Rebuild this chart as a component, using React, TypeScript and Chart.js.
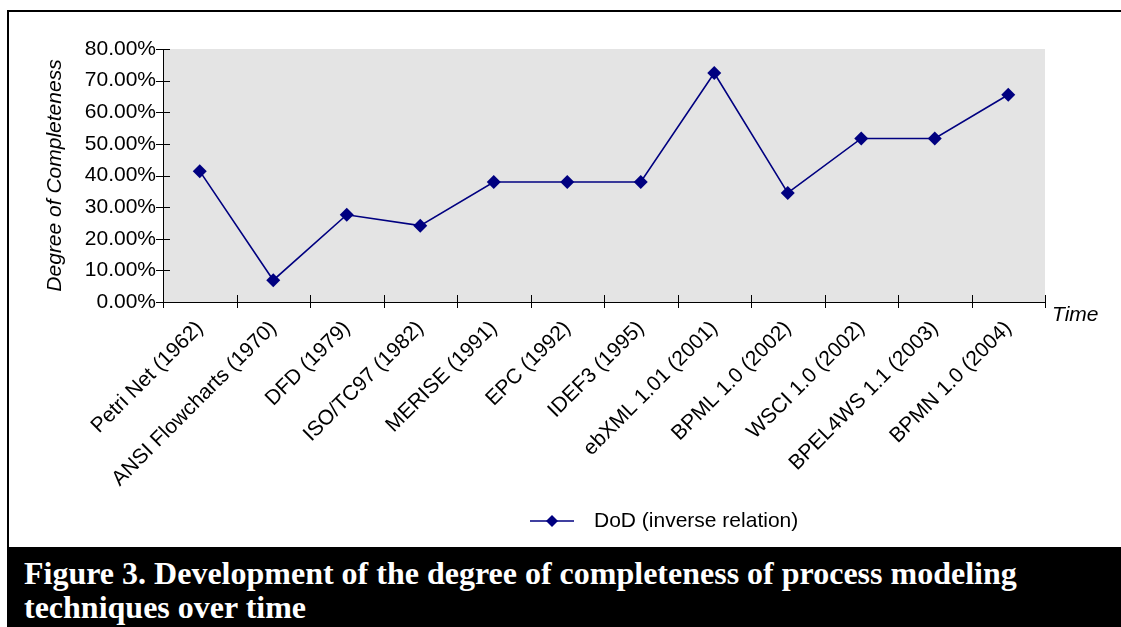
import React, { useEffect, useRef } from "react";
import { Chart, registerables } from "chart.js";

Chart.register(...registerables);

// Process modeling techniques in chronological order
const categories = [
  "Petri Net (1962)",
  "ANSI Flowcharts (1970)",
  "DFD (1979)",
  "ISO/TC97 (1982)",
  "MERISE (1991)",
  "EPC (1992)",
  "IDEF3 (1995)",
  "ebXML 1.01 (2001)",
  "BPML 1.0 (2002)",
  "WSCI 1.0 (2002)",
  "BPEL4WS 1.1 (2003)",
  "BPMN 1.0 (2004)",
];

// Degree of completeness, in percent
const completeness = [
  41.38, 6.9, 27.59, 24.14, 37.93, 37.93, 37.93, 72.41, 34.48, 51.72, 51.72, 65.52,
];

const yTickValues = [0, 10, 20, 30, 40, 50, 60, 70, 80];

const seriesLabel = "DoD (inverse relation)";
const yTitle = "Degree of Completeness";
const xTitle = "Time";
const caption =
  "Figure 3. Development of the degree of completeness of process modeling techniques over time";

const NAVY = "#000080";
const SANS = "'Liberation Sans', Arial, sans-serif";

const decorPlugin = {
  id: "decor",
  beforeDraw(chart: any) {
    const { ctx, chartArea: a } = chart;
    ctx.save();
    ctx.fillStyle = "#ffffff";
    ctx.fillRect(0, 0, chart.width, chart.height);
    ctx.fillStyle = "#e4e4e4";
    ctx.fillRect(a.left, a.top, a.right - a.left, a.bottom - a.top);
    ctx.restore();
  },
  afterDraw(chart: any) {
    const { ctx, chartArea: a } = chart;
    const xs = chart.scales.x;
    const ys = chart.scales.y;
    ctx.save();
    ctx.strokeStyle = "#000";
    ctx.lineWidth = 1;
    ctx.beginPath();
    // tick marks crossing the value axis
    ys.ticks.forEach((t: any) => {
      const py = Math.round(ys.getPixelForValue(t.value)) + 0.5;
      ctx.moveTo(a.left - 7, py);
      ctx.lineTo(a.left + 7, py);
    });
    // tick marks between categories, crossing the category axis
    for (let i = 0; i <= categories.length; i++) {
      const px = Math.round(xs.getPixelForValue(i - 0.5)) + 0.5;
      ctx.moveTo(px, a.bottom - 7);
      ctx.lineTo(px, a.bottom + 6);
    }
    ctx.stroke();

    // axis title at the end of the category axis
    ctx.fillStyle = "#000";
    ctx.font = `italic 21px ${SANS}`;
    ctx.textAlign = "left";
    ctx.textBaseline = "middle";
    ctx.fillText(xTitle, a.right + 7, a.bottom + 13);

    // legend
    const ly = 521;
    ctx.strokeStyle = NAVY;
    ctx.lineWidth = 1.5;
    ctx.beginPath();
    ctx.moveTo(530, ly);
    ctx.lineTo(574, ly);
    ctx.stroke();
    ctx.fillStyle = NAVY;
    ctx.beginPath();
    ctx.moveTo(552 - 6, ly);
    ctx.lineTo(552, ly - 6);
    ctx.lineTo(552 + 6, ly);
    ctx.lineTo(552, ly + 6);
    ctx.closePath();
    ctx.fill();
    ctx.fillStyle = "#000";
    ctx.font = `21px ${SANS}`;
    ctx.fillText(seriesLabel, 594, ly);
    ctx.restore();
  },
};

export default function App() {
  const canvasRef = useRef<HTMLCanvasElement | null>(null);

  useEffect(() => {
    if (!canvasRef.current) return;
    const chart = new Chart(canvasRef.current, {
      type: "line",
      data: {
        labels: categories,
        datasets: [
          {
            label: seriesLabel,
            data: completeness,
            borderColor: NAVY,
            backgroundColor: NAVY,
            borderWidth: 1.6,
            pointStyle: "rectRot",
            pointRadius: 7,
            pointBorderWidth: 0,
            pointBackgroundColor: NAVY,
            tension: 0,
          },
        ],
      },
      options: {
        responsive: false,
        animation: false,
        events: [],
        layout: { padding: { left: 0, top: 49, right: 76, bottom: 0 } },
        plugins: {
          legend: { display: false },
          tooltip: { enabled: false },
        },
        scales: {
          x: {
            type: "category",
            offset: true,
            grid: { display: false, drawTicks: false },
            border: { display: true, color: "#000", width: 1 },
            ticks: {
              autoSkip: false,
              minRotation: 45,
              maxRotation: 45,
              padding: 14,
              labelOffset: 0,
              color: "#000",
              font: { family: SANS, size: 21 },
            },
            afterFit(scale: any) {
              scale.height = 246;
            },
          },
          y: {
            min: yTickValues[0],
            max: yTickValues[yTickValues.length - 1],
            grid: { display: false, drawTicks: false },
            border: { display: true, color: "#000", width: 1 },
            ticks: {
              stepSize: yTickValues[1] - yTickValues[0],
              padding: 7,
              color: "#000",
              font: { family: SANS, size: 21 },
              callback: (v: any) => Number(v).toFixed(2) + "%",
            },
            title: {
              display: true,
              text: yTitle,
              color: "#000",
              font: { family: SANS, size: 21, style: "italic" },
              padding: { top: 43, bottom: 0 },
            },
            afterFit(scale: any) {
              scale.width = 163;
            },
          },
        },
      },
      plugins: [decorPlugin],
    } as any);
    return () => chart.destroy();
  }, []);

  return (
    <div style={{ position: "relative", width: 1121, height: 627, overflow: "hidden" }}>
      <canvas
        ref={canvasRef}
        width={1121}
        height={548}
        style={{ position: "fixed", left: 0, top: 0, width: 1121, height: 548 }}
      />
      <div
        style={{
          position: "fixed",
          left: 7,
          top: 10,
          width: 1114,
          height: 538,
          borderLeft: "2px solid #000",
          borderTop: "2px solid #000",
          boxSizing: "border-box",
          pointerEvents: "none",
        }}
      />
      <div
        style={{
          position: "fixed",
          left: 7,
          top: 547,
          width: 1114,
          height: 80,
          background: "#000",
          color: "#fff",
          fontFamily: "'Liberation Serif', 'Times New Roman', serif",
          fontWeight: "bold",
          fontSize: 32,
          lineHeight: "34px",
          padding: "9px 0 0 17px",
          boxSizing: "border-box",
          overflow: "hidden",
        }}
      >
        {caption}
      </div>
    </div>
  );
}
